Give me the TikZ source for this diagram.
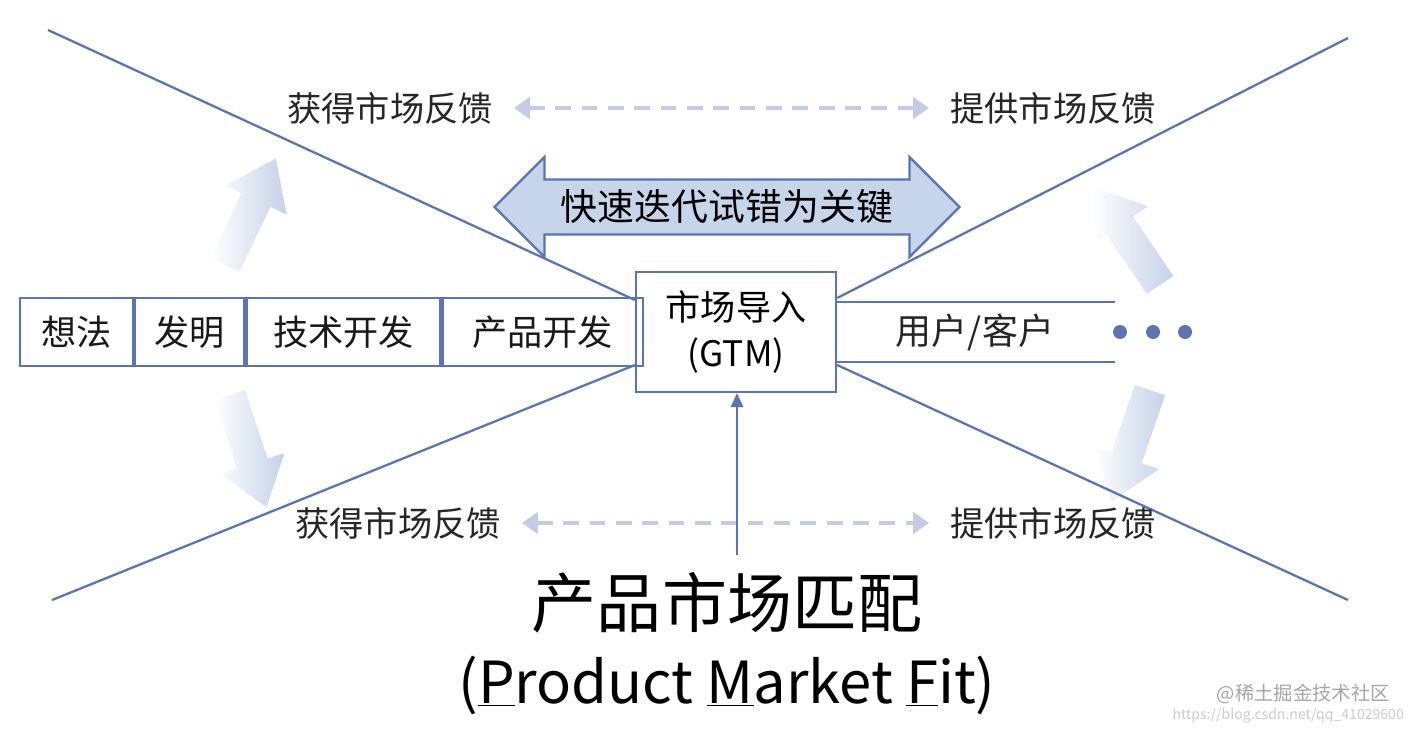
\documentclass[tikz,border=0pt]{standalone}
\usepackage{fontspec}
\setmainfont{Noto Sans CJK SC}
\usetikzlibrary{arrows.meta,shapes.arrows,calc}
\definecolor{ln}{HTML}{5B74B4}
\definecolor{fl}{HTML}{C6D5EA}
\definecolor{dsh}{HTML}{C3CCE4}
\begin{document}
\begin{tikzpicture}[x=0.02cm,y=-0.02cm,
  lab/.style={font=\fontsize{19.5}{22}\selectfont,text=black!85},
  bx/.style={font=\fontsize{20}{22}\selectfont,text=black!90},
  bar/.style={draw=ln,line width=1.3pt}]
\useasboundingbox (0,0) rectangle (1416,730);
\fill[white] (0,0) rectangle (1416,730);
% fat arrows
\foreach \px/\py/\ang in {225/265/64.5, 1160/285/124, 230/395/-72, 1150/390/-109}{
  \begin{scope}[shift={(\px,\py)},rotate=\ang]
  \shade[left color=white,right color=fl!85!ln!80] (0,-16)--(72,-16)--(72,-34)--(118,0)--(72,34)--(72,16)--(0,16)--cycle;
  \end{scope}}
% GTM box
\node[draw=ln,line width=1.3pt,minimum width=4cm,minimum height=2.4cm,align=center,font=\fontsize{20}{26}\selectfont] (gtm) at (736,332) {市场导入\\(GTM)};
% diagonals
\coordinate (d1) at (48,30); \coordinate (d2) at (52,600);
\coordinate (d3) at (1348,38); \coordinate (d4) at (1348,600);
\draw[bar] (d1) -- (gtm.north west|-0,300);
\draw[bar] (d2) -- (gtm.south west|-0,365);
\draw[bar] (d3) -- (gtm.north east|-0,298);
\draw[bar] (d4) -- (gtm.south east|-0,365);
% left bar
\node[bar,draw,minimum width=2.26cm,minimum height=1.36cm,bx] (a) at (76.5,332) {想法};
\node[bar,draw,minimum width=2.18cm,minimum height=1.36cm,bx,anchor=west] (b) at (a.east) {发明};
\node[bar,draw,minimum width=3.88cm,minimum height=1.36cm,bx,anchor=west] (c) at (b.east) {技术开发};
\node[bar,draw,minimum width=4cm,minimum height=1.36cm,bx,anchor=west] (d) at (c.east) {产品开发};
% right lines
\coordinate (r1) at (1115,302); \coordinate (r2) at (1115,362);
\draw[bar] (gtm.east|-r1) -- (r1);
\draw[bar] (gtm.east|-r2) -- (r2);
\node[lab,font=\fontsize{20.5}{22}\selectfont] (u) at (975,332) {用户/客户};
\foreach \x/\n in {1120/p1,1153/p2,1185/p3} \fill[ln] (\x,332) circle (7);
% big double arrow
\node[double arrow,draw=ln,line width=1.3pt,fill=fl,minimum height=9.3cm,minimum width=2cm,double arrow head extend=0.3cm,inner sep=0pt,font=\fontsize{21}{22}\selectfont] (k) at (727,207) {快速迭代试错为关键};
% feedback labels
\node[lab] (t1) at (390,108) {获得市场反馈};
\node[lab] (t2) at (1053,108) {提供市场反馈};
\node[lab] (b1) at (398,523) {获得市场反馈};
\node[lab] (b2) at (1053,523) {提供市场反馈};
\draw[dsh,line width=2.5pt,dash pattern=on 9pt off 6pt,{Triangle[length=9pt,width=12pt]}-{Triangle[length=9pt,width=12pt]}] ($(t1.east)+(15,0)$) -- ($(t2.west)+(-15,0)$);
\draw[dsh,line width=2.5pt,dash pattern=on 9pt off 6pt,{Triangle[length=9pt,width=12pt]}-{Triangle[length=9pt,width=12pt]}] ($(b1.east)+(15,0)$) -- ($(b2.west)+(-15,0)$);
% title
\node[font=\fontsize{37}{40}\selectfont] (pm) at (727,603) {产品市场匹配};
\node[font=\fontsize{33}{40}\selectfont] (en) at (727,685) {(\underline{P}roduct \underline{M}arket \underline{F}it)};
\coordinate (gb) at (737,555);
\draw[ln,line width=1.3pt,-{Triangle[length=8pt,width=7pt]}] (gb) -- (gtm.south-|gb);
\node[text=black!35,font=\fontsize{11}{12}\selectfont,anchor=east] (w1) at (1396,694) {@稀土掘金技术社区};
\node[text=black!20,font=\fontsize{8}{9}\selectfont,anchor=east] (w2) at (1410,716) {https://blog.csdn.net/qq\_41029600};
\end{tikzpicture}
\end{document}
